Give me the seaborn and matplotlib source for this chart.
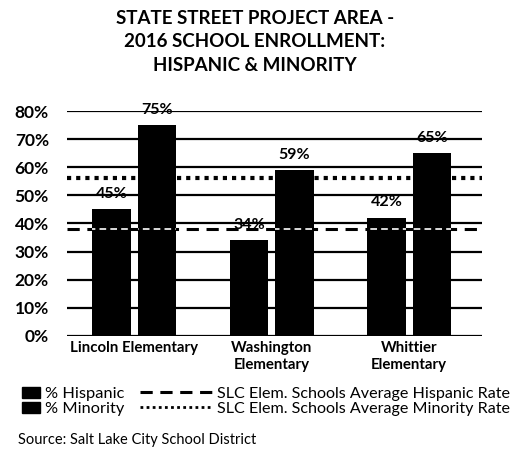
import matplotlib
matplotlib.use("Agg")
import matplotlib.pyplot as plt
from matplotlib.lines import Line2D
from matplotlib.patches import Patch
import seaborn as sns
import pandas as pd

# data
schools = ["Lincoln Elementary", "Washington\nElementary", "Whittier\nElementary"]
hispanic = [45, 34, 42]
minority = [75, 59, 65]
avg_hispanic = 38
avg_minority = 56
yticks = [0, 10, 20, 30, 40, 50, 60, 70, 80]

df = pd.DataFrame({
    "school": schools * 2,
    "group": ["% Hispanic"] * 3 + ["% Minority"] * 3,
    "pct": hispanic + minority,
})

sns.set_theme(style="white")
plt.rcParams["font.family"] = ["Lato", "DejaVu Sans"]
plt.rcParams["text.color"] = "black"
plt.rcParams["xtick.color"] = "black"
plt.rcParams["ytick.color"] = "black"

fig = plt.figure(figsize=(5.15, 4.55), dpi=100)
ax = fig.add_axes([0.13, 0.262, 0.806, 0.494])

sns.barplot(data=df, x="school", y="pct", hue="group", palette=["black", "black"],
            width=0.66, gap=0.15, ax=ax, legend=False, zorder=2, edgecolor="none")

ax.set_ylim(0, 80)
ax.set_xlim(-0.49, 2.53)
ax.set_yticks(yticks)
ax.set_yticklabels([f"{t}%" for t in yticks], fontsize=12.5, fontweight="bold")
ax.tick_params(axis="x", labelsize=10.8, pad=4, length=0)
ax.tick_params(axis="y", length=0, pad=13)
for lbl in ax.get_xticklabels():
    lbl.set_fontweight("bold")
ax.set_xlabel("")
ax.set_ylabel("")
for sp in ax.spines.values():
    sp.set_visible(False)
ax.yaxis.grid(True, color="black", lw=1.6, zorder=0)
ax.set_axisbelow(True)

# average lines
ax.axhline(avg_minority, color="black", ls=(0, (1, 1.2)), lw=3, zorder=3)
ax.axhline(avg_hispanic, color="black", ls=(0, (4, 2.5)), lw=2.2, zorder=3)
for bar in ax.patches:
    ln = ax.axhline(avg_hispanic, color="white", ls=(0, (4, 2.5)), lw=1.2, zorder=4)
    ln.set_clip_path(bar)

# value labels
for bar in ax.patches:
    h = bar.get_height()
    ax.annotate(f"{h:.0f}%", (bar.get_x() + bar.get_width() / 2, h),
                xytext=(0, 6), textcoords="offset points", ha="center", va="bottom",
                fontsize=11.5, fontweight="bold", zorder=5)

fig.text(0.495, 0.978, "STATE STREET PROJECT AREA -\n2016 SCHOOL ENROLLMENT:\nHISPANIC & MINORITY",
         ha="center", va="top", fontsize=13.5, fontweight="bold", linespacing=1.45)

bar_handles = [
    Patch(color="black", label="% Hispanic"),
    Patch(color="black", label="% Minority"),
]
line_handles = [
    Line2D([], [], color="black", ls=(0, (4, 2.5)), lw=2.2, label="SLC Elem. Schools Average Hispanic Rate"),
    Line2D([], [], color="black", ls=(0, (1, 1.2)), lw=2, label="SLC Elem. Schools Average Minority Rate"),
]
fig.legend(handles=bar_handles, loc="upper left", bbox_to_anchor=(0.043, 0.15),
           frameon=False, handlelength=1.1, handleheight=0.7,
           handletextpad=0.3, labelspacing=0.02, borderpad=0, borderaxespad=0,
           prop={"size": 11.8})
fig.legend(handles=line_handles, loc="upper left", bbox_to_anchor=(0.272, 0.15),
           frameon=False, handlelength=4.5, handleheight=0.7,
           handletextpad=0.3, labelspacing=0.05, borderpad=0, borderaxespad=0,
           prop={"size": 11.6})

fig.text(0.035, 0.025, "Source: Salt Lake City School District", fontsize=10.5)

fig.savefig("out.png", dpi=100)
